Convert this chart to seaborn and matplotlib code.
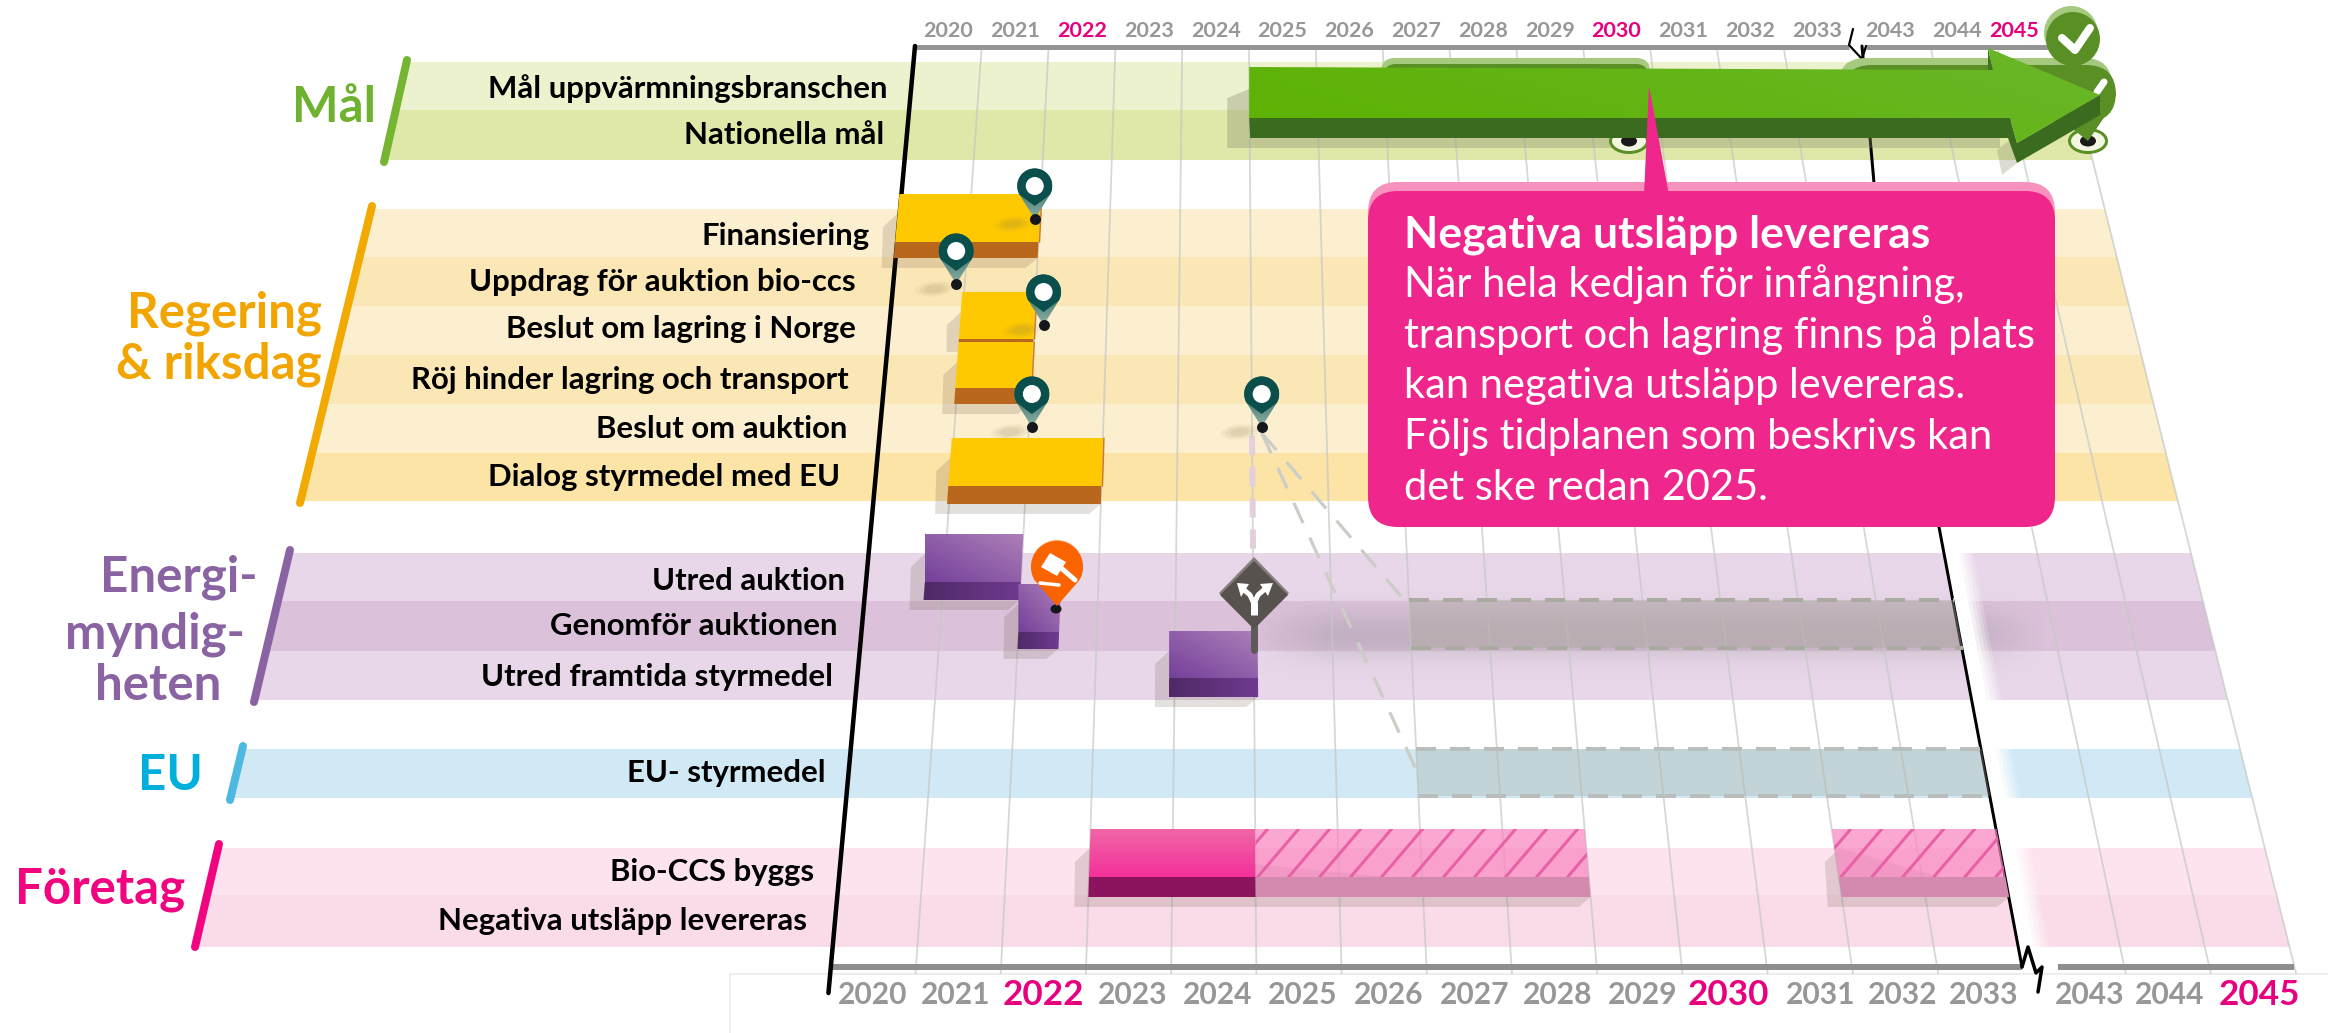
import numpy as np
import pandas as pd
import matplotlib
matplotlib.use("Agg")
import matplotlib.pyplot as plt
import matplotlib.colors as mc
from matplotlib.patches import Polygon, FancyBboxPatch, Ellipse, Circle
import seaborn as sns

# timeline
top_years = ["2020", "2021", "2022", "2023", "2024", "2025", "2026", "2027", "2028", "2029",
             "2030", "2031", "2032", "2033", "2043", "2044", "2045"]
top_pos = [0.5, 1.5, 2.5, 3.5, 4.5, 5.5, 6.5, 7.5, 8.5, 9.5, 10.5, 11.5, 12.5, 13.5, 14.6, 15.6, 16.45]
bot_pos = [0.49, 1.47, 2.5, 3.55, 4.55, 5.54, 6.56, 7.57, 8.54, 9.54, 10.55, 11.63, 12.6, 13.55, 14.8, 15.74, 16.79]
grid_pos = [1, 2, 3, 4, 5, 6, 7, 8, 9, 10, 11, 12, 13, 15.2, 16.2, 17.2]
pink_years = ["2022", "2030", "2045"]

# rows
row_names = ["Mål uppvärmningsbranschen", "Nationella mål", "Finansiering", "Uppdrag för auktion bio-ccs",
             "Beslut om lagring i Norge", "Röj hinder lagring och transport", "Beslut om auktion",
             "Dialog styrmedel med EU", "Utred auktion", "Genomför auktionen", "Utred framtida styrmedel",
             "EU- styrmedel", "Bio-CCS byggs", "Negativa utsläpp levereras"]
row_right = [887, 884, 870, 856, 856, 849, 847, 840, 845, 838, 833, 826, 814, 807]
row_y = [89, 135, 236, 282, 329, 380, 429, 477, 581, 626, 677, 773, 872, 921]
band_top = [62, 110, 209, 257, 306, 355, 404, 453, 553, 601, 651, 749, 848, 895]
band_bot = [110, 160, 257, 306, 355, 404, 453, 501, 601, 651, 700, 798, 895, 947]
band_col = ["#ecf2cd", "#dfe8a8", "#fcefcf", "#fbe6b5", "#fcefcf", "#fbe6b5", "#fcefcf", "#fce3a6",
            "#e8d7e9", "#dbc2da", "#e8d7e9", "#d0e9f5", "#fde3ef", "#fadbe9"]

# groups
group_names = ["Mål", "Regering", "& riksdag", "Energi-", "myndig-", "heten", "EU", "Företag"]
group_right = [376, 322, 322, 257, 245, 221, 203, 185]
group_y = [107, 313, 364, 577, 634, 685, 776, 889]
group_col = ["#6fb22f", "#f2a500", "#f2a500", "#8a63a2", "#8a63a2", "#8a63a2", "#00afdb", "#f0047f"]

# activities, in years since 2020
yellow_start = [0, 1, 1, 1]
yellow_end = [2, 2, 2, 3]
yellow_y = [(194, 242, 258), (292, 339, 342), (342, 388, 404), (438, 486, 504)]
purple_start = [0.76, 2.0, 3.93]
purple_end = [2.0, 2.52, 5.05]
purple_y = [(534, 582, 600), (584, 632, 649), (631, 678, 697)]
build_start = [3, 5, 12]
build_end = [5, 9, 14]
open_start = [7, 7]
open_end = [14, 14]

# pins: years since 2020 and pixel height of tip
pin_t = [1.93, 0.88, 2.13, 2.04, 5.13]
pin_y = [219, 284, 325, 427, 427]

callout_title = "Negativa utsläpp levereras"
callout_lines = ["När hela kedjan för infångning,", "transport och lagring finns på plats",
                 "kan negativa utsläpp levereras.", "Följs tidplanen som beskrivs kan",
                 "det ske redan 2025."]

sns.set_theme(style="white")
plt.rcParams['font.family'] = ['Lato', 'DejaVu Sans']

W, H = 2328, 1033
fig = plt.figure(figsize=(W / 100, H / 100), dpi=100)
ax = fig.add_axes([0, 0, 1, 1])
ax.set_xlim(0, W)
ax.set_ylim(H, 0)
ax.axis("off")


def px(v):
    return v * 0.72


# perspective: time position + pixel height -> pixel x
def X(t, y):
    f = (y - 46) / 919
    return 915 - 84 * f + t * (66.8 + 18.26 * f)


def band_left(y):
    return 408 - 0.2373 * (y - 62)


def poly(verts, color, z, alpha=1, **kw):
    p = Polygon(verts, closed=True, facecolor=color, edgecolor="none", alpha=alpha, zorder=z, **kw)
    ax.add_patch(p)
    return p


def grad_poly(verts, c1, c2, z, dx=0, dy=1):
    verts = np.array(verts, dtype=float)
    x0, y0 = verts.min(axis=0)
    x1, y1 = verts.max(axis=0)
    u, v = np.meshgrid(np.linspace(0, 1, 64), np.linspace(0, 1, 64))
    m = u * dx + v * dy
    m = (m - m.min()) / (m.max() - m.min())
    a, b = np.array(mc.to_rgb(c1)), np.array(mc.to_rgb(c2))
    arr = a[None, None, :] * (1 - m[..., None]) + b[None, None, :] * m[..., None]
    im = ax.imshow(arr, extent=(x0, x1, y1, y0), aspect="auto", zorder=z, interpolation="bilinear")
    clip = Polygon(verts, closed=True, transform=ax.transData, facecolor="none", edgecolor="none")
    ax.add_patch(clip)
    im.set_clip_path(clip)
    return im


def rbox(x0, y0, x1, y1, r, color, z, **kw):
    b = FancyBboxPatch((x0, y0), x1 - x0, y1 - y0, boxstyle=f"round,pad=0,rounding_size={r}",
                       facecolor=color, edgecolor=kw.pop("ec", "none"), lw=kw.pop("lw", 0), zorder=z, **kw)
    ax.add_patch(b)
    return b


def shadow(t0, t1, yt, yf, yb, z):
    verts = [(X(t0, yf) + 1, yt + 19), (X(t0, yf) - 14, yt + 33), (X(t0, yb) - 14, yb + 10),
             (X(t1, yb) - 12, yb + 10), (X(t1, yb), yb)]
    poly(verts, "#5a4030", z, alpha=0.16)


def blob(x, y, z):
    for k, a in zip([1.0, 0.75, 0.5], [0.07, 0.09, 0.11]):
        ax.add_patch(Ellipse((x - 22, y + 5), 38 * k, 15 * k, angle=-6, facecolor="#8a7a50",
                             edgecolor="none", alpha=a, zorder=z))


def pin_verts(cx, cy, r, tip):
    ang = np.linspace(np.radians(150), np.radians(390), 50)
    xs = cx + r * np.cos(ang)
    ys = cy + r * np.sin(ang)
    return np.vstack([np.column_stack([xs, ys]), [[cx, tip]]])


# bands
for t, b, c in zip(band_top, band_bot, band_col):
    poly([(band_left(t), t), (X(17.2, t), t), (X(17.2, b), b), (band_left(b), b)], c, 1)

# blur behind the auction row
v, u = np.meshgrid(np.linspace(-1, 1, 60), np.linspace(-1, 1, 200), indexing="ij")
alpha = np.exp(-(v / 0.42) ** 2) * np.clip((1 - np.abs(u)) * 5, 0, 1) * 0.24
rgba = np.dstack([np.full(u.shape, 0.48), np.full(u.shape, 0.47), np.full(u.shape, 0.48), alpha])
ax.imshow(rgba, extent=(1245, 2050, 695, 575), aspect="auto", zorder=1.5)

# grid
for t in grid_pos:
    ax.plot([X(t, 48), X(t, 974)], [48, 974], color="#c4c8c4", lw=px(1.8), alpha=0.7, zorder=2,
            solid_capstyle="butt")

# white gap at the axis break
for i, a in enumerate([1, 1, 1, 1, 0.8, 0.6, 0.4, 0.2]):
    t0 = 14 + i * 0.045
    poly([(X(t0, 520), 520), (X(t0 + 0.05, 520), 520), (X(t0 + 0.05, 962), 962), (X(t0, 962), 962)],
         "white", 3, alpha=a)

# axes
ax.plot([915, 1849], [47, 47], color="#949494", lw=px(5), zorder=4, solid_capstyle="butt")
ax.plot([1866, 2052], [47, 47], color="#949494", lw=px(5), zorder=4, solid_capstyle="butt")
ax.plot([831, 2022], [967, 967], color="#8e8e8e", lw=px(6), zorder=4, solid_capstyle="butt")
ax.plot([2058, 2294], [967, 967], color="#8e8e8e", lw=px(6), zorder=4, solid_capstyle="butt")
ax.plot([730, W], [974, 974], color="#e8e8e8", lw=px(1.5), zorder=1)
ax.plot([730, 730], [974, H], color="#ececec", lw=px(1.5), zorder=1)
ax.plot([X(0, 46), X(0, 993)], [46, 993], color="black", lw=px(4.5), zorder=5)
ax.plot([1862, 1874, 1939, 2022], [46, 183, 527, 967], color="black", lw=px(3), zorder=4)
ax.plot([2022, 2028, 2036, 2042, 2038], [967, 947, 973, 967, 992], color="black", lw=px(3.5), zorder=5)
ax.plot([1853, 1849, 1862, 1866], [29, 45, 59, 46], color="black", lw=px(2.2), zorder=5)

# year labels
for lab, t in zip(top_years, top_pos):
    pink = lab in pink_years
    ax.text(X(t, 46), 31, lab, ha="center", va="center", fontsize=px(21.5), fontweight="bold",
            color="#e6007e" if pink else "#979797", zorder=6)
for lab, t in zip(top_years, bot_pos):
    pink = lab in pink_years
    ax.text(X(t, 965), 995, lab, ha="center", va="center", fontsize=px(35 if pink else 30), fontweight="bold",
            color="#e6007e" if pink else "#979797", zorder=6)

# row and group labels
for name, r, y in zip(row_names, row_right, row_y):
    ax.text(r, y, name, ha="right", va="center", fontsize=22.4, fontweight="bold", color="black", zorder=6)
for name, r, y, c in zip(group_names, group_right, group_y, group_col):
    ax.text(r, y, name, ha="right", va="center", fontsize=35.5, fontweight="bold", color=c, zorder=6)

slant_x = [(407, 384), (372, 300), (290, 254), (243, 230), (219, 195)]
slant_y = [(60, 162), (206, 503), (550, 702), (746, 800), (844, 947)]
slant_c = ["#76b531", "#f2a900", "#8a63a2", "#4db8e0", "#f0047f"]
for xs, ys, c in zip(slant_x, slant_y, slant_c):
    ax.plot(xs, ys, color=c, lw=px(8), solid_capstyle="round", zorder=6)

# open ended boxes
box_y = [(600, 648), (749, 796)]
box_fill = ["#aaa99c", "#aaa99c"]
box_alpha = [0.42, 0.32]
box_dash = ["#a9aba1", "#b9bdbb"]
for t0, t1, (yt, yb), c, a, d in zip(open_start, open_end, box_y, box_fill, box_alpha, box_dash):
    poly([(X(t0, yt), yt), (X(t1, yt), yt), (X(t1, yb), yb), (X(t0, yb), yb)], c, 4.5, alpha=a)
    for y in (yt, yb):
        ax.plot([X(t0, y), X(t1, y)], [y, y], color=d, lw=px(4), ls=(0, (5, 3.5)), zorder=4.6)

# dashed connections from the decision
end_y = [606, 772]
for y in end_y:
    ax.plot([X(5.13, 433), X(7, y)], [433, y], color="#cbcdc6", lw=px(3.2), ls=(0, (7, 5)), zorder=4.7)
ax.plot([X(5, 436), X(5, 556)], [436, 556], color="#e3d0dc", lw=px(6), ls=(0, (3.2, 2)), zorder=4.7)

# yellow bars
for t0, t1, (yt, yf, yb) in zip(yellow_start, yellow_end, yellow_y):
    shadow(t0, t1, yt, yf, yb, 5)
for t0, t1, (yt, yf, yb) in zip(yellow_start, yellow_end, yellow_y):
    poly([(X(t0, yt) - 2, yt), (X(t1, yt), yt), (X(t1, yf), yf), (X(t0, yf) - 2, yf)], "#ffc900", 7)
    poly([(X(t0, yf) - 2, yf), (X(t1, yf), yf), (X(t1, yb), yb), (X(t0, yb) - 2, yb)], "#b9671c", 7)
    ax.plot([X(t1, yt) + 1, X(t1, yf) + 1], [yt, yf], color="#d07a25", lw=px(1.5), zorder=7)

# purple bars
for t0, t1, (yt, yf, yb) in zip(purple_start, purple_end, purple_y):
    shadow(t0, t1, yt, yf, yb, 5)
for t0, t1, (yt, yf, yb) in zip(purple_start, purple_end, purple_y):
    grad_poly([(X(t0, yf), yt), (X(t1, yt), yt), (X(t1, yf), yf), (X(t0, yf), yf)], "#ad7fb8", "#74409a", 7, dx=-1, dy=1)
    grad_poly([(X(t0, yf), yf), (X(t1, yf), yf), (X(t1, yb), yb), (X(t0, yb), yb)], "#4f2a66", "#6f3a8f", 7, dx=1, dy=0)

# company bars
yt, yf, yb = 829, 877, 897
shadow(build_start[0], build_end[1], yt, yf, yb, 5)
shadow(build_start[2], build_end[2], yt, yf, yb, 5)
grad_poly([(X(3, yt), yt), (X(5, yt), yt), (X(5, yf), yf), (X(3, yf), yf)], "#ef66a6", "#f4309a", 7)
poly([(X(3, yf), yf), (X(5, yf), yf), (X(5, yb), yb), (X(3, yb), yb)], "#8c145e", 7)
for t0, t1 in zip(build_start[1:], build_end[1:]):
    face = poly([(X(t0, yt), yt), (X(t1, yt), yt), (X(t1, yf), yf), (X(t0, yf), yf)], "#f986c0", 7, alpha=0.72)
    poly([(X(t0, yf), yf), (X(t1, yf), yf), (X(t1, yb), yb), (X(t0, yb), yb)], "#d48aae", 7)
    for x in np.arange(X(t0, yf) - 60, X(t1, yf) + 60, 31):
        ln, = ax.plot([x, x + 41], [yf, yt], color="#e860a5", lw=px(3), zorder=7.1)
        ln.set_clip_path(face)

# decision sign
ax.plot([1254, 1254], [625, 650], color="#5c5a5a", lw=px(7), solid_capstyle="round", zorder=9)
poly([(1254, 557), (1289, 593), (1254, 629), (1219, 593)], "#85807e", 9)
poly([(1254, 561), (1288, 595), (1254, 629), (1220, 595)], "#58524f", 9.01)
ax.plot([1254, 1254], [615, 602], color="white", lw=px(7), solid_capstyle="butt", zorder=9.1)
ax.plot([1254, 1250, 1243], [604, 595, 589], color="white", lw=px(5), zorder=9.1)
ax.plot([1254, 1258, 1265], [604, 595, 589], color="white", lw=px(5), zorder=9.1)
poly([(1237, 583), (1249, 584), (1241, 597)], "white", 9.1)
poly([(1273, 583), (1260, 584), (1268, 596)], "white", 9.1)

# auction pin
ax.add_patch(Circle((1057, 566), 26, facecolor="#f8a36d", edgecolor="none", zorder=9))
poly(pin_verts(1057, 567, 26, 606), "#f96400", 9.1)
poly([(1050, 553), (1066, 562), (1057, 576), (1041, 567)], "white", 9.2)
ax.plot([1060, 1075], [567, 580], color="white", lw=px(5), zorder=9.2)
ax.plot([1040, 1059], [583, 585], color="white", lw=px(3.5), zorder=9.2)

# green flags behind the arrow
rbox(1381, 58, 1650, 100, 14, "#a5c97e", 9.5)
rbox(1384, 64, 1648, 100, 12, "#5a8f25", 9.6)
rbox(1838, 58, 2112, 120, 28, "#a5c97e", 9.5)
ax.add_patch(Circle((2071, 33), 27, facecolor="#a5c97e", edgecolor="none", zorder=9.5))
ax.add_patch(Circle((2073, 39), 27, facecolor="#5a8f25", edgecolor="none", zorder=9.6))
rbox(1842, 65, 2116, 122, 30, "#5a8f25", 9.6)
poly([(2114, 103), (2055, 115), (2088, 141)], "#5a8f25", 9.6)
ax.plot([2062, 2075, 2090], [38, 50, 28], color="white", lw=px(8), solid_capstyle="round", zorder=9.7)
ax.plot([2097, 2104], [92, 82], color="white", lw=px(7), solid_capstyle="round", zorder=9.7)
for cx in (1629, 2088):
    ax.add_patch(Ellipse((cx, 141), 37, 23, facecolor="#f4f6e4", edgecolor="#5a8f25", lw=px(3), zorder=9.4))
    ax.add_patch(Ellipse((cx, 141), 16, 11, facecolor="#1a1a1a", edgecolor="none", zorder=9.45))

# arrow, from 2025 onwards
a0 = X(5, 69)
poly([(a0 - 22, 98), (a0, 89), (2000, 100), (2000, 148), (a0 - 22, 148)], "#8a8a6e", 9.2, alpha=0.35)
poly([(1997, 150), (2002, 175), (2017, 163), (2010, 140)], "#8a8a6e", 9.2, alpha=0.3)
poly([(1988, 48), (1993, 70), (1988, 70)], "#3f7420", 10)
poly([(a0, 118), (2010, 118), (2017, 143), (2100, 95), (2100, 115), (2017, 163), (2008, 138), (a0 + 1, 138)], "#3b6b1f", 10)
grad_poly([(a0, 67), (1993, 70), (1988, 48), (2100, 95), (2017, 143), (2010, 118), (a0, 118)], "#5cb200", "#6ab72a", 10.2, dx=1, dy=-0.4)

# callout
rbox(1368, 182, 2055, 300, 30, "#f792bf", 11)
rbox(1368, 191, 2055, 527, 30, "#ef268b", 11.2)
poly([(1644, 195), (1669, 195), (1649, 86)], "#ef268b", 11.1)
ax.text(1404, 235, callout_title, ha="left", va="center", fontsize=32, fontweight="bold", color="white", zorder=12)
for i, line in enumerate(callout_lines):
    ax.text(1404, 284 + i * 51, line, ha="left", va="center", fontsize=30, color="white", zorder=12)

# teal pins
pins = pd.DataFrame({"t": pin_t, "y": pin_y})
pins["x"] = [X(t, y) for t, y in zip(pins["t"], pins["y"])]
for x, y in zip(pins["x"], pins["y"]):
    blob(x, y, 7.5)
order = [8, 8.4, 8.2, 8.6, 8.6]
for (x, y), z in zip(zip(pins["x"], pins["y"]), order):
    verts = pin_verts(x, y - 33, 17.5, y)
    grad_poly(verts, "#0a4f4b", "#8fb0a5", z, dy=1)
    poly(pin_verts(x, y - 33, 17.5, y - 13), "#0a4f4b", z + 0.01)
    ax.add_patch(Circle((x, y - 33), 9, facecolor="white", edgecolor="none", zorder=z + 0.02))
sns.scatterplot(data=pins, x="x", y="y", ax=ax, color="#14181c", s=px(11) ** 2, linewidth=0, legend=False, zorder=8.9)
ax.add_patch(Ellipse((1056, 609), 11, 9, facecolor="#14181c", edgecolor="none", zorder=9.05))

ax.set_xlim(0, W)
ax.set_ylim(H, 0)
ax.axis("off")
fig.savefig("out.png", dpi=100, facecolor="white")
